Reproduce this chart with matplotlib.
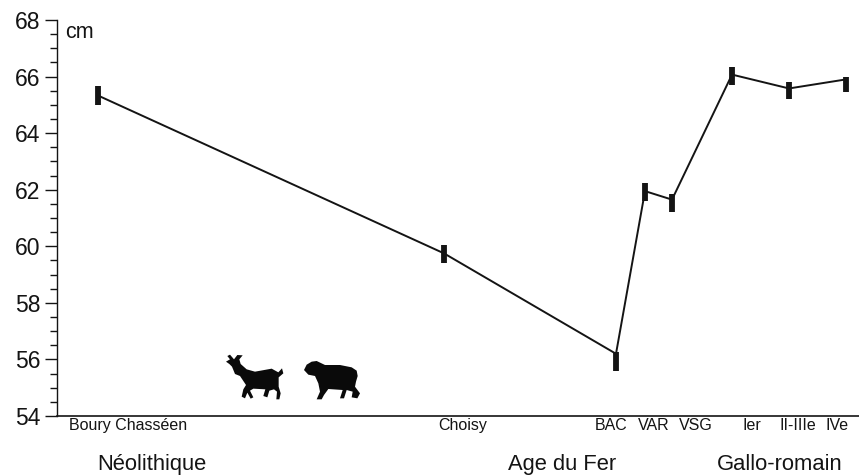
import matplotlib
matplotlib.use("Agg")
import matplotlib.pyplot as plt
from matplotlib.patches import Polygon
from matplotlib.transforms import Affine2D

plt.rcParams['font.family'] = ['Liberation Sans', 'DejaVu Sans']

W, H = 859, 476
INK = '#141414'

# data
sites = ['Boury Chasséen', 'Choisy', 'BAC', 'VAR', 'VSG', 'Ier', 'II-IIIe', 'IVe']
means = [65.33, 59.75, 56.2, 61.95, 61.65, 66.07, 65.58, 65.9]
lows = [65.0, 59.4, 55.6, 61.6, 61.2, 65.7, 65.2, 65.45]
highs = [65.65, 60.05, 56.25, 62.25, 61.85, 66.35, 65.8, 66.0]
periods = ['Néolithique', 'Age du Fer', 'Gallo-romain']
y_ticks = [54, 56, 58, 60, 62, 64, 66, 68]
unit = 'cm'

# layout (reference pixels)
site_x = [98, 444, 616, 645, 672, 732, 789, 846]
site_label_x = [128, 463, 611, 654, 696, 752, 798, 837]
period_label_x = [152, 562, 780]

fig = plt.figure(figsize=(W / 100, H / 100), dpi=100, facecolor='white')
ax = fig.add_axes([57 / W, 1 - 416 / H, (W - 57) / W, (416 - 20) / H])
ax.set_xlim(57, W)
ax.set_ylim(54, 68)

ax.plot(site_x, means, color=INK, lw=1.4, solid_joinstyle='round', zorder=2)
ax.vlines(site_x, lows, highs, color=INK, lw=4.2, capstyle='butt', zorder=3)

for s in ('top', 'right'):
    ax.spines[s].set_visible(False)
ax.spines['left'].set_linewidth(1.0)
ax.spines['left'].set_color(INK)
ax.spines['bottom'].set_linewidth(1.2)
ax.spines['bottom'].set_color(INK)

ax.set_xticks([])
ax.set_yticks(y_ticks)
ax.set_yticks([v / 2 for v in range(108, 137)], minor=True)
ax.tick_params(axis='y', which='major', length=9, width=1.0, color=INK,
               labelsize=16.5, labelcolor=INK, pad=3)
ax.tick_params(axis='y', which='minor', length=5, width=1.0, color=INK)

px = Affine2D().scale(1 / W, -1 / H).translate(0, 1) + fig.transFigure

for lab, x in zip(sites, site_label_x):
    fig.text(x, 430, lab, transform=px, ha='center', va='baseline', fontsize=11.5, color=INK)
for lab, x in zip(periods, period_label_x):
    fig.text(x, 470, lab, transform=px, ha='center', va='baseline', fontsize=15.8, color=INK)
fig.text(65, 38, unit, transform=px, ha='left', va='baseline', fontsize=15.5, color=INK)

goat = [(78, 65), (90, 58), (82, 48), (90, 44), (102, 58), (112, 45), (128, 46), (118, 58),
        (122, 72), (140, 88), (165, 95), (215, 86), (235, 97), (246, 85), (250, 100),
        (236, 112), (236, 140), (242, 160), (238, 178), (229, 178), (231, 155), (222, 148),
        (208, 152), (202, 172), (190, 168), (196, 148), (160, 146), (150, 152), (160, 172),
        (152, 176), (142, 158), (135, 175), (125, 170), (130, 148), (138, 135), (120, 108),
        (105, 102), (96, 80), (88, 72)]
sheep = [(312, 90), (320, 74), (335, 65), (350, 63), (375, 75), (420, 75), (455, 82), (470, 92),
         (473, 108), (468, 125), (465, 140), (480, 160), (472, 175), (455, 172), (458, 155),
         (440, 150), (432, 175), (420, 175), (428, 150), (385, 147), (372, 165), (365, 178),
         (350, 178), (360, 155), (355, 130), (345, 108), (325, 104)]
for outline in (goat, sheep):
    pts = [(200 + a / 3, 340 + b / 3) for a, b in outline]
    fig.add_artist(Polygon(pts, closed=True, transform=px, facecolor='#0a0a0a', edgecolor='none'))

fig.savefig('out.png', dpi=100, facecolor='white')
